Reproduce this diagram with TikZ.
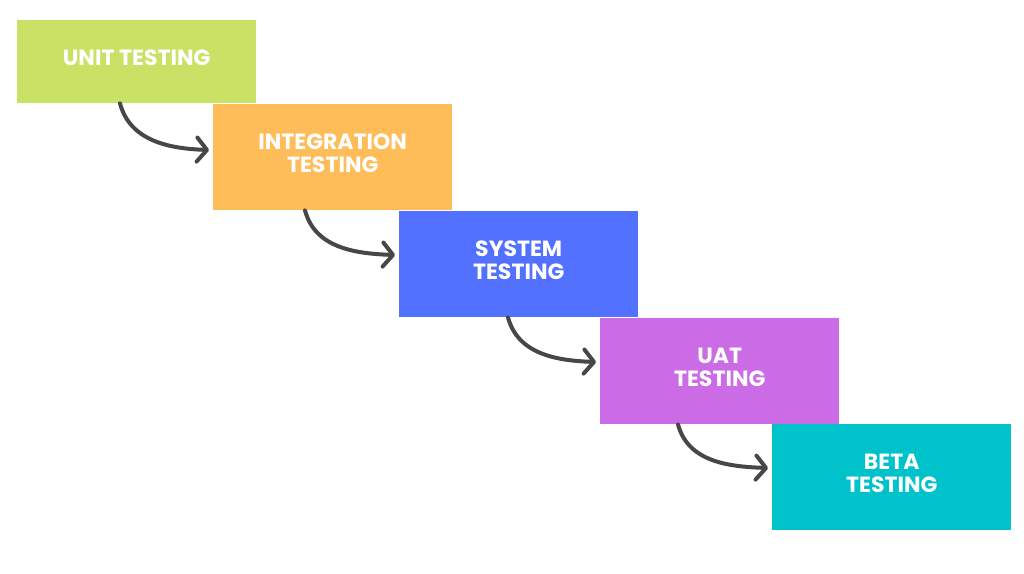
\documentclass[tikz,border=0pt]{standalone}
\usepackage{fontspec}
\setmainfont{Poppins}
\usepackage{tikz}
\usetikzlibrary{arrows.meta,positioning}
\definecolor{unitgreen}{HTML}{C9E265}
\definecolor{integorange}{HTML}{FFBD59}
\definecolor{sysblue}{HTML}{5271FF}
\definecolor{uatpurple}{HTML}{CB6CE6}
\definecolor{betateal}{HTML}{00C2CB}
\definecolor{arrgray}{HTML}{474747}
\tikzset{
  stagebox/.style={inner sep=0pt, anchor=north west,
    minimum width=239pt, minimum height=106pt, text depth=8pt,
    align=center, text=white, font=\fontsize{22}{23}\selectfont\bfseries},
  flowarr/.style={-{Straight Barb[length=10pt, width=24pt, round]},
    line width=4pt, arrgray, line cap=round},
}

\begin{document}
\begin{tikzpicture}[x=1pt, y=-1pt]
  \useasboundingbox (0,0) rectangle (1024,573);
  \node[stagebox, fill=unitgreen, minimum height=83pt] (unit) at (17,20)
    {UNIT TESTING};
  \node[stagebox, fill=integorange] (integ) at (213,104)
    {INTEGRATION\\TESTING};
  \node[stagebox, fill=sysblue] (sys) at (399,211)
    {SYSTEM\\TESTING};
  \node[stagebox, fill=uatpurple] (uat) at (600,318)
    {UAT\\TESTING};
  \node[stagebox, fill=betateal] (beta) at (772,424)
    {BETA\\TESTING};

  % Arrows between stages
  \draw[flowarr] ([xshift=103pt]unit.south west)
    to[out=-75, in=178] ([xshift=-4pt, yshift=-46pt]integ.north west);
  \draw[flowarr] ([xshift=92pt]integ.south west)
    to[out=-75, in=178] ([xshift=-4pt, yshift=-44pt]sys.north west);
  \draw[flowarr] ([xshift=109pt]sys.south west)
    to[out=-75, in=178] ([xshift=-4pt, yshift=-44pt]uat.north west);
  \draw[flowarr] ([xshift=78pt]uat.south west)
    to[out=-75, in=178] ([xshift=-4pt, yshift=-44pt]beta.north west);
\end{tikzpicture}
\end{document}
